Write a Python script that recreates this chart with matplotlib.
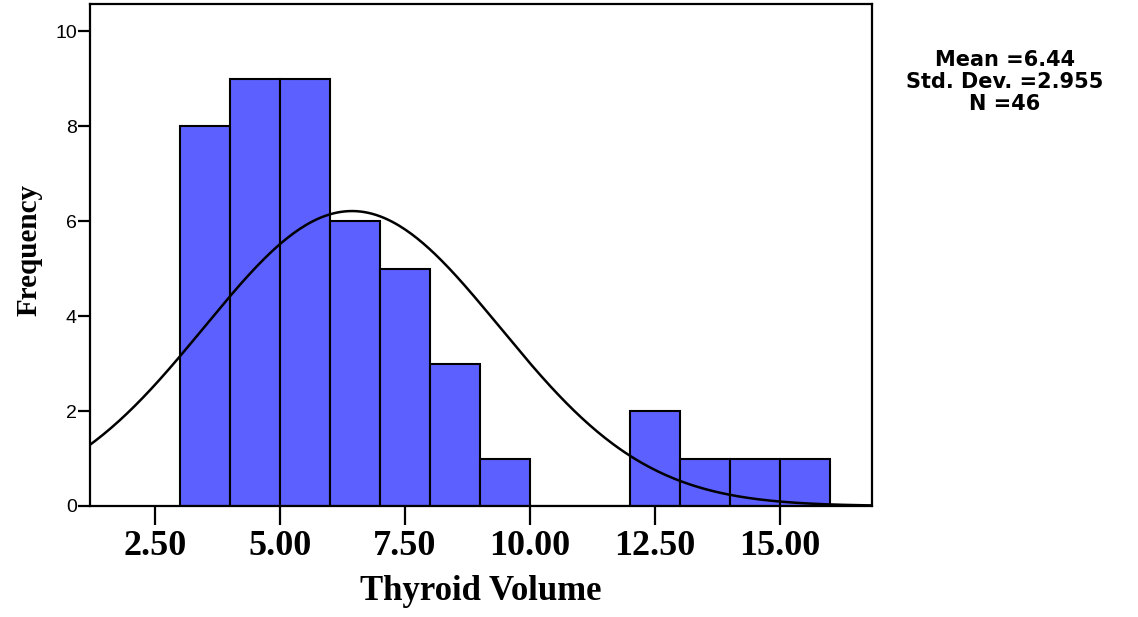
import matplotlib
matplotlib.use('Agg')
import matplotlib.pyplot as plt
import numpy as np

# Histogram bins (width 1) and counts
bin_edges = np.arange(3, 17, 1)
counts = [8, 9, 9, 6, 5, 3, 1, 0, 0, 2, 1, 1, 1]

# Summary statistics shown next to the chart
mean = 6.44
std_dev = 2.955
n = 46

x_ticks = [2.5, 5.0, 7.5, 10.0, 12.5, 15.0]
x_tick_labels = ['2.50', '5.00', '7.50', '10.00', '12.50', '15.00']
y_ticks = [0, 2, 4, 6, 8, 10]

fig = plt.figure(figsize=(11.38, 6.17), dpi=100)
ax = fig.add_axes([90 / 1138, 1 - 506 / 617, 782 / 1138, 502 / 617])

bar_color = '#5C60FF'
ax.bar(bin_edges[:-1], counts, width=np.diff(bin_edges), align='edge',
       color=bar_color, edgecolor='black', linewidth=1.5, zorder=2)

# Normal curve scaled to the counts
xlim = (1.2, 16.84)
xs = np.linspace(xlim[0], xlim[1], 400)
bin_w = 1.0
ys = n * bin_w / (std_dev * np.sqrt(2 * np.pi)) * np.exp(-0.5 * ((xs - mean) / std_dev) ** 2)
ax.plot(xs, ys, color='black', linewidth=1.8, zorder=3)

ax.set_xlim(*xlim)
ax.set_ylim(0, 10.57)

for s in ['left', 'right', 'top', 'bottom']:
    ax.spines[s].set_linewidth(1.6)

ax.set_xticks(x_ticks)
ax.set_xticklabels(x_tick_labels, fontfamily='Liberation Serif', fontweight='bold', fontsize=26)
ax.tick_params(axis='x', length=14, width=1.6, pad=3)
ax.set_yticks(y_ticks)
ax.set_yticklabels([str(v) for v in y_ticks], fontfamily='Liberation Sans', fontsize=14)
ax.tick_params(axis='y', length=8.5, width=1.6, pad=1)

ax.set_xlabel('Thyroid Volume', fontfamily='Liberation Serif', fontweight='bold', fontsize=25,
              va='center')
ax.xaxis.set_label_coords(0.5, -0.171)
ax.set_ylabel('Frequency', fontfamily='Liberation Serif', fontweight='bold', fontsize=21,
              va='center')
ax.yaxis.set_label_coords(-0.078, 0.51)

stats_text = f'Mean ={mean:.2f}\nStd. Dev. ={std_dev:.3f}\nN ={n}'
fig.text(1005 / 1138, 1 - 82 / 617, stats_text, ha='center', va='center',
         fontfamily='DejaVu Sans', fontweight='bold', fontsize=15, linespacing=1.15)

fig.savefig('out.png', dpi=100)
